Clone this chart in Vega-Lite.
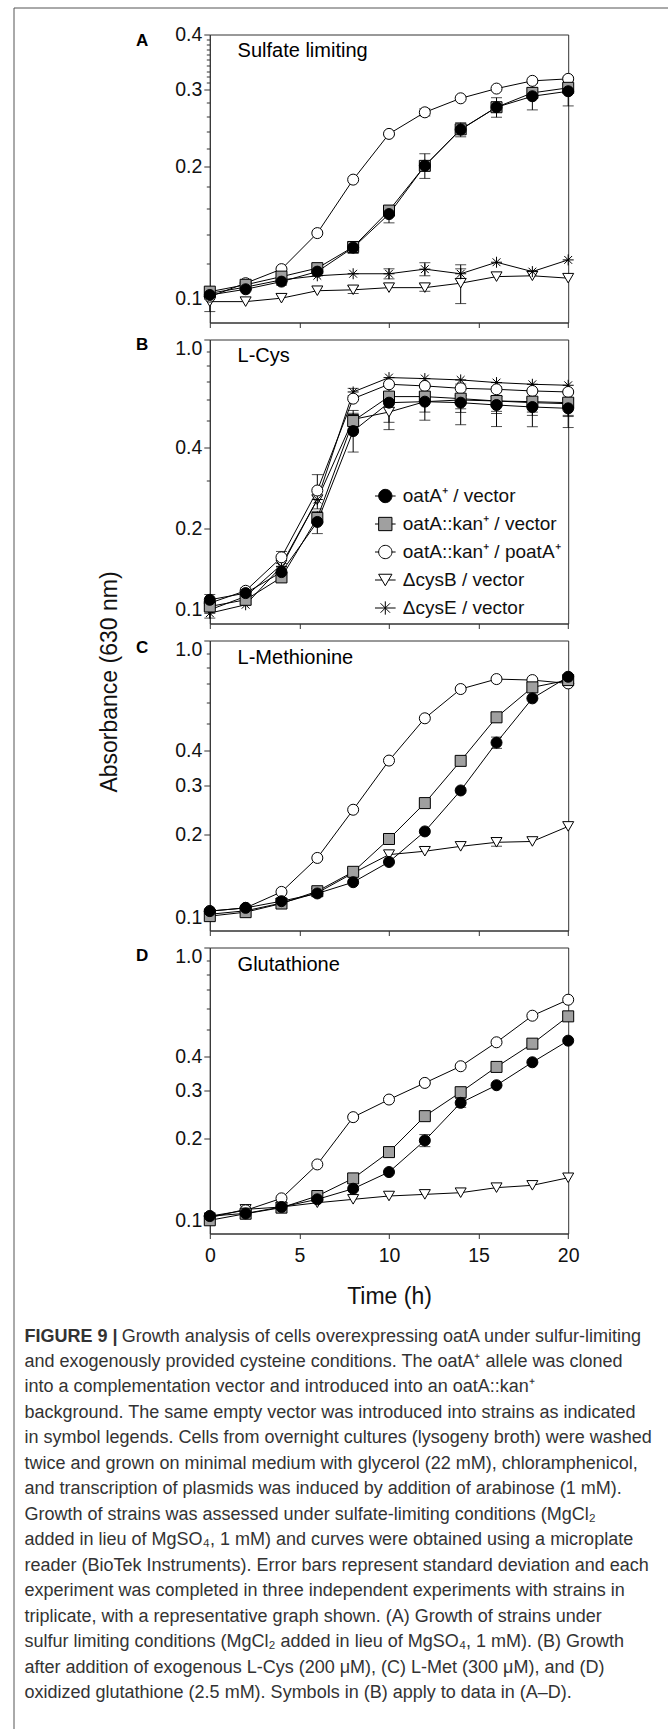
{
  "$schema": "https://vega.github.io/schema/vega-lite/v6.json",
  "background": "white",
  "padding": {"left": 10.5, "top": 7.5, "right": 0, "bottom": 0},
  "bounds": "flush",
  "spacing": 0,
  "resolve": {"scale": {"x": "independent", "y": "independent", "shape": "independent", "fill": "independent", "stroke": "independent"}},
  "datasets": {
    "growth": [
      {"panel":"A","series":"ΔcysB / vector","t":0,"v":0.0982,"sd":0.005},
      {"panel":"A","series":"ΔcysB / vector","t":2,"v":0.0982},
      {"panel":"A","series":"ΔcysB / vector","t":4,"v":0.1},
      {"panel":"A","series":"ΔcysB / vector","t":6,"v":0.104},
      {"panel":"A","series":"ΔcysB / vector","t":8,"v":0.1045,"sd":0.002},
      {"panel":"A","series":"ΔcysB / vector","t":10,"v":0.1057},
      {"panel":"A","series":"ΔcysB / vector","t":12,"v":0.1057,"sd":0.002},
      {"panel":"A","series":"ΔcysB / vector","t":14,"v":0.1082,"sd":0.011},
      {"panel":"A","series":"ΔcysB / vector","t":16,"v":0.112},
      {"panel":"A","series":"ΔcysB / vector","t":18,"v":0.1125},
      {"panel":"A","series":"ΔcysB / vector","t":20,"v":0.1111},
      {"panel":"A","series":"ΔcysE / vector","t":0,"v":0.1026},
      {"panel":"A","series":"ΔcysE / vector","t":2,"v":0.106},
      {"panel":"A","series":"ΔcysE / vector","t":4,"v":0.1101},
      {"panel":"A","series":"ΔcysE / vector","t":6,"v":0.1125},
      {"panel":"A","series":"ΔcysE / vector","t":8,"v":0.1137},
      {"panel":"A","series":"ΔcysE / vector","t":10,"v":0.1137,"sd":0.003},
      {"panel":"A","series":"ΔcysE / vector","t":12,"v":0.1165,"sd":0.004},
      {"panel":"A","series":"ΔcysE / vector","t":14,"v":0.1137,"sd":0.003},
      {"panel":"A","series":"ΔcysE / vector","t":16,"v":0.1208},
      {"panel":"A","series":"ΔcysE / vector","t":18,"v":0.115},
      {"panel":"A","series":"ΔcysE / vector","t":20,"v":0.1223},
      {"panel":"A","series":"oatA::kan⁺ / poatA⁺","t":0,"v":0.1008},
      {"panel":"A","series":"oatA::kan⁺ / poatA⁺","t":2,"v":0.1082},
      {"panel":"A","series":"oatA::kan⁺ / poatA⁺","t":4,"v":0.1165},
      {"panel":"A","series":"oatA::kan⁺ / poatA⁺","t":6,"v":0.1408},
      {"panel":"A","series":"oatA::kan⁺ / poatA⁺","t":8,"v":0.1865},
      {"panel":"A","series":"oatA::kan⁺ / poatA⁺","t":10,"v":0.2372},
      {"panel":"A","series":"oatA::kan⁺ / poatA⁺","t":12,"v":0.2657,"sd":0.005},
      {"panel":"A","series":"oatA::kan⁺ / poatA⁺","t":14,"v":0.286},
      {"panel":"A","series":"oatA::kan⁺ / poatA⁺","t":16,"v":0.301},
      {"panel":"A","series":"oatA::kan⁺ / poatA⁺","t":18,"v":0.3135},
      {"panel":"A","series":"oatA::kan⁺ / poatA⁺","t":20,"v":0.3168,"sd":0.003},
      {"panel":"A","series":"oatA::kan⁺ / vector","t":0,"v":0.1035},
      {"panel":"A","series":"oatA::kan⁺ / vector","t":2,"v":0.1073},
      {"panel":"A","series":"oatA::kan⁺ / vector","t":4,"v":0.112},
      {"panel":"A","series":"oatA::kan⁺ / vector","t":6,"v":0.1171},
      {"panel":"A","series":"oatA::kan⁺ / vector","t":8,"v":0.1309},
      {"panel":"A","series":"oatA::kan⁺ / vector","t":10,"v":0.1585},
      {"panel":"A","series":"oatA::kan⁺ / vector","t":12,"v":0.2005},
      {"panel":"A","series":"oatA::kan⁺ / vector","t":14,"v":0.243},
      {"panel":"A","series":"oatA::kan⁺ / vector","t":16,"v":0.2729},
      {"panel":"A","series":"oatA::kan⁺ / vector","t":18,"v":0.2943,"sd":0.008},
      {"panel":"A","series":"oatA::kan⁺ / vector","t":20,"v":0.3022,"sd":0.006},
      {"panel":"A","series":"oatA⁺ / vector","t":0,"v":0.1017},
      {"panel":"A","series":"oatA⁺ / vector","t":2,"v":0.1048},
      {"panel":"A","series":"oatA⁺ / vector","t":4,"v":0.1091,"sd":0.002},
      {"panel":"A","series":"oatA⁺ / vector","t":6,"v":0.115},
      {"panel":"A","series":"oatA⁺ / vector","t":8,"v":0.1305,"sd":0.004},
      {"panel":"A","series":"oatA⁺ / vector","t":10,"v":0.1556,"sd":0.007},
      {"panel":"A","series":"oatA⁺ / vector","t":12,"v":0.2007,"sd":0.013},
      {"panel":"A","series":"oatA⁺ / vector","t":14,"v":0.2426,"sd":0.009},
      {"panel":"A","series":"oatA⁺ / vector","t":16,"v":0.2729,"sd":0.014},
      {"panel":"A","series":"oatA⁺ / vector","t":18,"v":0.2891,"sd":0.02},
      {"panel":"A","series":"oatA⁺ / vector","t":20,"v":0.2968,"sd":0.022},

      {"panel":"B","series":"ΔcysB / vector","t":0,"v":0.1},
      {"panel":"B","series":"ΔcysB / vector","t":2,"v":0.1121},
      {"panel":"B","series":"ΔcysB / vector","t":4,"v":0.1469},
      {"panel":"B","series":"ΔcysB / vector","t":6,"v":0.2558},
      {"panel":"B","series":"ΔcysB / vector","t":8,"v":0.5064,"sd":0.04},
      {"panel":"B","series":"ΔcysB / vector","t":10,"v":0.5391,"sd":0.075},
      {"panel":"B","series":"ΔcysB / vector","t":12,"v":0.5889,"sd":0.05},
      {"panel":"B","series":"ΔcysB / vector","t":14,"v":0.5973,"sd":0.06},
      {"panel":"B","series":"ΔcysB / vector","t":16,"v":0.5923,"sd":0.06},
      {"panel":"B","series":"ΔcysB / vector","t":18,"v":0.5839,"sd":0.06},
      {"panel":"B","series":"ΔcysB / vector","t":20,"v":0.5788,"sd":0.06},
      {"panel":"B","series":"ΔcysE / vector","t":0,"v":0.0972,"sd":0.004},
      {"panel":"B","series":"ΔcysE / vector","t":2,"v":0.1044},
      {"panel":"B","series":"ΔcysE / vector","t":4,"v":0.1448},
      {"panel":"B","series":"ΔcysE / vector","t":6,"v":0.2558},
      {"panel":"B","series":"ΔcysE / vector","t":8,"v":0.6396,"sd":0.02},
      {"panel":"B","series":"ΔcysE / vector","t":10,"v":0.7229},
      {"panel":"B","series":"ΔcysE / vector","t":12,"v":0.7168},
      {"panel":"B","series":"ΔcysE / vector","t":14,"v":0.7087},
      {"panel":"B","series":"ΔcysE / vector","t":16,"v":0.6928},
      {"panel":"B","series":"ΔcysE / vector","t":18,"v":0.6829},
      {"panel":"B","series":"ΔcysE / vector","t":20,"v":0.6771},
      {"panel":"B","series":"oatA::kan⁺ / poatA⁺","t":0,"v":0.1059},
      {"panel":"B","series":"oatA::kan⁺ / poatA⁺","t":2,"v":0.1176},
      {"panel":"B","series":"oatA::kan⁺ / poatA⁺","t":4,"v":0.1564,"sd":0.008},
      {"panel":"B","series":"oatA::kan⁺ / poatA⁺","t":6,"v":0.2763,"sd":0.04},
      {"panel":"B","series":"oatA::kan⁺ / poatA⁺","t":8,"v":0.6042},
      {"panel":"B","series":"oatA::kan⁺ / poatA⁺","t":10,"v":0.6829},
      {"panel":"B","series":"oatA::kan⁺ / poatA⁺","t":12,"v":0.6733},
      {"panel":"B","series":"oatA::kan⁺ / poatA⁺","t":14,"v":0.6599},
      {"panel":"B","series":"oatA::kan⁺ / poatA⁺","t":16,"v":0.6543},
      {"panel":"B","series":"oatA::kan⁺ / poatA⁺","t":18,"v":0.6451},
      {"panel":"B","series":"oatA::kan⁺ / poatA⁺","t":20,"v":0.6396},
      {"panel":"B","series":"oatA::kan⁺ / vector","t":0,"v":0.1029},
      {"panel":"B","series":"oatA::kan⁺ / vector","t":2,"v":0.1089},
      {"panel":"B","series":"oatA::kan⁺ / vector","t":4,"v":0.1318},
      {"panel":"B","series":"oatA::kan⁺ / vector","t":6,"v":0.2187},
      {"panel":"B","series":"oatA::kan⁺ / vector","t":8,"v":0.4993,"sd":0.02},
      {"panel":"B","series":"oatA::kan⁺ / vector","t":10,"v":0.6148},
      {"panel":"B","series":"oatA::kan⁺ / vector","t":12,"v":0.6148},
      {"panel":"B","series":"oatA::kan⁺ / vector","t":14,"v":0.6042,"sd":0.05},
      {"panel":"B","series":"oatA::kan⁺ / vector","t":16,"v":0.5923,"sd":0.05},
      {"panel":"B","series":"oatA::kan⁺ / vector","t":18,"v":0.5889,"sd":0.05},
      {"panel":"B","series":"oatA::kan⁺ / vector","t":20,"v":0.5839,"sd":0.06},
      {"panel":"B","series":"oatA⁺ / vector","t":0,"v":0.1089,"sd":0.005},
      {"panel":"B","series":"oatA⁺ / vector","t":2,"v":0.1153,"sd":0.005},
      {"panel":"B","series":"oatA⁺ / vector","t":4,"v":0.1379,"sd":0.006},
      {"panel":"B","series":"oatA⁺ / vector","t":6,"v":0.2114,"sd":0.02},
      {"panel":"B","series":"oatA⁺ / vector","t":8,"v":0.4584,"sd":0.075},
      {"panel":"B","series":"oatA⁺ / vector","t":10,"v":0.5839,"sd":0.09},
      {"panel":"B","series":"oatA⁺ / vector","t":12,"v":0.5889,"sd":0.086},
      {"panel":"B","series":"oatA⁺ / vector","t":14,"v":0.5839,"sd":0.1},
      {"panel":"B","series":"oatA⁺ / vector","t":16,"v":0.5724,"sd":0.096},
      {"panel":"B","series":"oatA⁺ / vector","t":18,"v":0.5627,"sd":0.087},
      {"panel":"B","series":"oatA⁺ / vector","t":20,"v":0.5564,"sd":0.084},

      {"panel":"C","series":"ΔcysB / vector","t":0,"v":0.103},
      {"panel":"C","series":"ΔcysB / vector","t":2,"v":0.106},
      {"panel":"C","series":"ΔcysB / vector","t":4,"v":0.113},
      {"panel":"C","series":"ΔcysB / vector","t":6,"v":0.123},
      {"panel":"C","series":"ΔcysB / vector","t":8,"v":0.145},
      {"panel":"C","series":"ΔcysB / vector","t":10,"v":0.169},
      {"panel":"C","series":"ΔcysB / vector","t":12,"v":0.1738},
      {"panel":"C","series":"ΔcysB / vector","t":14,"v":0.181},
      {"panel":"C","series":"ΔcysB / vector","t":16,"v":0.1872,"sd":0.006},
      {"panel":"C","series":"ΔcysB / vector","t":18,"v":0.1885},
      {"panel":"C","series":"ΔcysB / vector","t":20,"v":0.2136},
      {"panel":"C","series":"oatA::kan⁺ / poatA⁺","t":0,"v":0.1057},
      {"panel":"C","series":"oatA::kan⁺ / poatA⁺","t":2,"v":0.1086},
      {"panel":"C","series":"oatA::kan⁺ / poatA⁺","t":4,"v":0.124},
      {"panel":"C","series":"oatA::kan⁺ / poatA⁺","t":6,"v":0.1644},
      {"panel":"C","series":"oatA::kan⁺ / poatA⁺","t":8,"v":0.2453},
      {"panel":"C","series":"oatA::kan⁺ / poatA⁺","t":10,"v":0.369},
      {"panel":"C","series":"oatA::kan⁺ / poatA⁺","t":12,"v":0.5242},
      {"panel":"C","series":"oatA::kan⁺ / poatA⁺","t":14,"v":0.6683},
      {"panel":"C","series":"oatA::kan⁺ / poatA⁺","t":16,"v":0.7259},
      {"panel":"C","series":"oatA::kan⁺ / poatA⁺","t":18,"v":0.7199},
      {"panel":"C","series":"oatA::kan⁺ / poatA⁺","t":20,"v":0.7002},
      {"panel":"C","series":"oatA::kan⁺ / vector","t":0,"v":0.1014},
      {"panel":"C","series":"oatA::kan⁺ / vector","t":2,"v":0.1048},
      {"panel":"C","series":"oatA::kan⁺ / vector","t":4,"v":0.1126},
      {"panel":"C","series":"oatA::kan⁺ / vector","t":6,"v":0.1247},
      {"panel":"C","series":"oatA::kan⁺ / vector","t":8,"v":0.1465},
      {"panel":"C","series":"oatA::kan⁺ / vector","t":10,"v":0.1924},
      {"panel":"C","series":"oatA::kan⁺ / vector","t":12,"v":0.2592},
      {"panel":"C","series":"oatA::kan⁺ / vector","t":14,"v":0.3681},
      {"panel":"C","series":"oatA::kan⁺ / vector","t":16,"v":0.5284,"sd":0.02},
      {"panel":"C","series":"oatA::kan⁺ / vector","t":18,"v":0.6776},
      {"panel":"C","series":"oatA::kan⁺ / vector","t":20,"v":0.7199},
      {"panel":"C","series":"oatA⁺ / vector","t":0,"v":0.1057},
      {"panel":"C","series":"oatA⁺ / vector","t":2,"v":0.1086},
      {"panel":"C","series":"oatA⁺ / vector","t":4,"v":0.1148},
      {"panel":"C","series":"oatA⁺ / vector","t":6,"v":0.1224},
      {"panel":"C","series":"oatA⁺ / vector","t":8,"v":0.1344},
      {"panel":"C","series":"oatA⁺ / vector","t":10,"v":0.159},
      {"panel":"C","series":"oatA⁺ / vector","t":12,"v":0.2049},
      {"panel":"C","series":"oatA⁺ / vector","t":14,"v":0.2879},
      {"panel":"C","series":"oatA⁺ / vector","t":16,"v":0.4284,"sd":0.02},
      {"panel":"C","series":"oatA⁺ / vector","t":18,"v":0.6185},
      {"panel":"C","series":"oatA⁺ / vector","t":20,"v":0.7401},

      {"panel":"D","series":"ΔcysB / vector","t":0,"v":0.1028},
      {"panel":"D","series":"ΔcysB / vector","t":2,"v":0.1103},
      {"panel":"D","series":"ΔcysB / vector","t":4,"v":0.1125},
      {"panel":"D","series":"ΔcysB / vector","t":6,"v":0.1166},
      {"panel":"D","series":"ΔcysB / vector","t":8,"v":0.12},
      {"panel":"D","series":"ΔcysB / vector","t":10,"v":0.1234},
      {"panel":"D","series":"ΔcysB / vector","t":12,"v":0.1251},
      {"panel":"D","series":"ΔcysB / vector","t":14,"v":0.1269},
      {"panel":"D","series":"ΔcysB / vector","t":16,"v":0.1324},
      {"panel":"D","series":"ΔcysB / vector","t":18,"v":0.135},
      {"panel":"D","series":"ΔcysB / vector","t":20,"v":0.1439},
      {"panel":"D","series":"oatA::kan⁺ / poatA⁺","t":0,"v":0.1042},
      {"panel":"D","series":"oatA::kan⁺ / poatA⁺","t":2,"v":0.1094},
      {"panel":"D","series":"oatA::kan⁺ / poatA⁺","t":4,"v":0.121},
      {"panel":"D","series":"oatA::kan⁺ / poatA⁺","t":6,"v":0.161},
      {"panel":"D","series":"oatA::kan⁺ / poatA⁺","t":8,"v":0.2397},
      {"panel":"D","series":"oatA::kan⁺ / poatA⁺","t":10,"v":0.278},
      {"panel":"D","series":"oatA::kan⁺ / poatA⁺","t":12,"v":0.3198},
      {"panel":"D","series":"oatA::kan⁺ / poatA⁺","t":14,"v":0.368},
      {"panel":"D","series":"oatA::kan⁺ / poatA⁺","t":16,"v":0.4502},
      {"panel":"D","series":"oatA::kan⁺ / poatA⁺","t":18,"v":0.5631},
      {"panel":"D","series":"oatA::kan⁺ / poatA⁺","t":20,"v":0.6442},
      {"panel":"D","series":"oatA::kan⁺ / vector","t":0,"v":0.1006},
      {"panel":"D","series":"oatA::kan⁺ / vector","t":2,"v":0.1063},
      {"panel":"D","series":"oatA::kan⁺ / vector","t":4,"v":0.1119},
      {"panel":"D","series":"oatA::kan⁺ / vector","t":6,"v":0.1234},
      {"panel":"D","series":"oatA::kan⁺ / vector","t":8,"v":0.1431},
      {"panel":"D","series":"oatA::kan⁺ / vector","t":10,"v":0.1786},
      {"panel":"D","series":"oatA::kan⁺ / vector","t":12,"v":0.2417},
      {"panel":"D","series":"oatA::kan⁺ / vector","t":14,"v":0.2957},
      {"panel":"D","series":"oatA::kan⁺ / vector","t":16,"v":0.3659},
      {"panel":"D","series":"oatA::kan⁺ / vector","t":18,"v":0.445},
      {"panel":"D","series":"oatA::kan⁺ / vector","t":20,"v":0.5601},
      {"panel":"D","series":"oatA⁺ / vector","t":0,"v":0.1042},
      {"panel":"D","series":"oatA⁺ / vector","t":2,"v":0.1066},
      {"panel":"D","series":"oatA⁺ / vector","t":4,"v":0.1125},
      {"panel":"D","series":"oatA⁺ / vector","t":6,"v":0.12},
      {"panel":"D","series":"oatA⁺ / vector","t":8,"v":0.1312},
      {"panel":"D","series":"oatA⁺ / vector","t":10,"v":0.151},
      {"panel":"D","series":"oatA⁺ / vector","t":12,"v":0.197,"sd":0.01},
      {"panel":"D","series":"oatA⁺ / vector","t":14,"v":0.2704,"sd":0.01},
      {"panel":"D","series":"oatA⁺ / vector","t":16,"v":0.3136},
      {"panel":"D","series":"oatA⁺ / vector","t":18,"v":0.3805},
      {"panel":"D","series":"oatA⁺ / vector","t":20,"v":0.4564}
    ],
    "caption": [
      {"line":0,"part":"head","text":"FIGURE 9 |"},
      {"line":0,"part":"body","text":"Growth analysis of cells overexpressing oatA under sulfur-limiting"},
      {"line":1,"part":"body","text":"and exogenously provided cysteine conditions. The oatA⁺ allele was cloned"},
      {"line":2,"part":"body","text":"into a complementation vector and introduced into an oatA::kan⁺"},
      {"line":3,"part":"body","text":"background. The same empty vector was introduced into strains as indicated"},
      {"line":4,"part":"body","text":"in symbol legends. Cells from overnight cultures (lysogeny broth) were washed"},
      {"line":5,"part":"body","text":"twice and grown on minimal medium with glycerol (22 mM), chloramphenicol,"},
      {"line":6,"part":"body","text":"and transcription of plasmids was induced by addition of arabinose (1 mM)."},
      {"line":7,"part":"body","text":"Growth of strains was assessed under sulfate-limiting conditions (MgCl₂"},
      {"line":8,"part":"body","text":"added in lieu of MgSO₄, 1 mM) and curves were obtained using a microplate"},
      {"line":9,"part":"body","text":"reader (BioTek Instruments). Error bars represent standard deviation and each"},
      {"line":10,"part":"body","text":"experiment was completed in three independent experiments with strains in"},
      {"line":11,"part":"body","text":"triplicate, with a representative graph shown. (A) Growth of strains under"},
      {"line":12,"part":"body","text":"sulfur limiting conditions (MgCl₂ added in lieu of MgSO₄, 1 mM). (B) Growth"},
      {"line":13,"part":"body","text":"after addition of exogenous L-Cys (200 μM), (C) L-Met (300 μM), and (D)"},
      {"line":14,"part":"body","text":"oxidized glutathione (2.5 mM). Symbols in (B) apply to data in (A–D)."}
    ],
    "frame": [{"z": 0}]
  },
  "vconcat": [
    {
      "width": 660, "height": 27,
      "view": {"stroke": null},
      "data": {"name": "frame"},
      "mark": {"type": "point", "opacity": 0},
      "encoding": {
        "x": {"field": "z", "type": "quantitative", "scale": {"domain": [0, 1]}, "axis": {"orient": "top", "ticks": false, "labels": false, "title": null, "domainColor": "#555555"}},
        "y": {"field": "z", "type": "quantitative", "scale": {"domain": [0, 1]}, "axis": {"ticks": false, "labels": false, "title": null, "domainColor": "#555555"}}
      }
    },
    {
      "bounds": "flush",
      "spacing": 195.3,
      "resolve": {"scale": {"x": "independent", "y": "independent", "shape": "independent", "fill": "independent", "stroke": "independent"}},
      "hconcat": [
        {
          "width": 1, "height": 1700,
          "view": {"stroke": null},
          "data": {"name": "frame"},
          "mark": {"type": "point", "opacity": 0},
          "encoding": {
            "y": {"field": "z", "type": "quantitative", "scale": {"domain": [0, 1]}, "axis": {"ticks": false, "labels": false, "title": null, "domainColor": "#555555"}}
          }
        },
        {
          "bounds": "flush",
          "spacing": 17,
          "resolve": {"scale": {"x": "independent", "y": "independent", "shape": "independent", "fill": "independent", "stroke": "independent"}},
          "vconcat": [
            {
              "width": 358.4, "height": 288,
              "layer": [
                {"data": {"name": "growth"}, "transform": [{"filter": "datum.panel == 'A' && datum.sd > 0"}],
                 "mark": {"type": "errorbar", "ticks": true, "size": 11, "thickness": 1, "color": "black"},
                 "encoding": {"x": {"field": "t", "type": "quantitative", "scale": {"domain": [0, 20], "nice": false, "zero": false}},
                              "y": {"field": "v", "type": "quantitative", "scale": {"type": "log", "domain": [0.088, 0.4], "nice": false}},
                              "yError": {"field": "sd"}}},
                {"data": {"name": "growth"}, "transform": [{"filter": "datum.panel == 'A'"}],
                 "mark": {"type": "line", "color": "black", "strokeWidth": 1},
                 "encoding": {"x": {"field": "t", "type": "quantitative", "scale": {"domain": [0, 20], "nice": false, "zero": false},
                                    "axis": {"values": [0, 5, 10, 15, 20], "labels": false, "title": null, "tickSize": 5}},
                              "y": {"field": "v", "type": "quantitative", "scale": {"type": "log", "domain": [0.088, 0.4], "nice": false},
                                    "axis": {"title": null, "labelFlush": false,
                                             "tickSize": {"condition": {"test": "datum.value == 0.1 || datum.value == 0.2 || datum.value == 0.3 || datum.value == 0.4", "value": 6}, "value": 3.5},
                                             "values": [0.1, 0.12, 0.14, 0.16, 0.18, 0.2, 0.22, 0.24, 0.26, 0.28, 0.3, 0.31, 0.32, 0.33, 0.34, 0.35, 0.36, 0.37, 0.38, 0.39, 0.4],
                                             "labelExpr": "(datum.value == 0.1 || datum.value == 0.2 || datum.value == 0.3 || datum.value == 0.4) ? format(datum.value, '.1f') : ''"}},
                              "detail": {"field": "series", "type": "nominal"}}},
                {"data": {"name": "growth"}, "transform": [{"filter": "datum.panel == 'A'"}],
                 "mark": {"type": "point", "filled": true, "opacity": 1, "strokeWidth": 1, "size": 121},
                 "encoding": {
                   "x": {"field": "t", "type": "quantitative", "scale": {"domain": [0, 20], "nice": false, "zero": false}},
                   "y": {"field": "v", "type": "quantitative", "scale": {"type": "log", "domain": [0.088, 0.4], "nice": false}},
                   "shape": {"field": "series", "type": "nominal", "legend": null,
                             "scale": {"domain": ["oatA⁺ / vector", "oatA::kan⁺ / vector", "oatA::kan⁺ / poatA⁺", "ΔcysB / vector", "ΔcysE / vector"],
                                       "range": ["circle", "square", "circle", "triangle-down", "M0,-1V1M-1,0H1M-0.71,-0.71L0.71,0.71M-0.71,0.71L0.71,-0.71"]}},
                   "fill": {"field": "series", "type": "nominal", "legend": null,
                            "scale": {"domain": ["oatA⁺ / vector", "oatA::kan⁺ / vector", "oatA::kan⁺ / poatA⁺", "ΔcysB / vector", "ΔcysE / vector"],
                                      "range": ["#000000", "#a0a0a0", "#ffffff", "#ffffff", "transparent"]}},
                   "stroke": {"field": "series", "type": "nominal", "legend": null,
                              "scale": {"domain": ["oatA⁺ / vector", "oatA::kan⁺ / vector", "oatA::kan⁺ / poatA⁺", "ΔcysB / vector", "ΔcysE / vector"],
                                        "range": ["#000000", "#000000", "#000000", "#000000", "#000000"]}}}},
                {"data": {"values": [{"label": "A"}]},
                 "mark": {"type": "text", "fontSize": 17, "fontWeight": "bold", "align": "center", "baseline": "middle", "color": "black", "font": "Liberation Sans"},
                 "encoding": {"x": {"datum": -3.78, "type": "quantitative", "scale": {"domain": [0, 20], "nice": false, "zero": false}},
                              "y": {"datum": 0.3875, "type": "quantitative", "scale": {"type": "log", "domain": [0.088, 0.4], "nice": false}},
                              "text": {"field": "label"}}},
                {"data": {"values": [{"label": "Sulfate limiting"}]},
                 "mark": {"type": "text", "fontSize": 20, "align": "left", "baseline": "middle", "color": "black", "font": "Liberation Sans"},
                 "encoding": {"x": {"datum": 1.55, "type": "quantitative", "scale": {"domain": [0, 20], "nice": false, "zero": false}},
                              "y": {"datum": 0.3664, "type": "quantitative", "scale": {"type": "log", "domain": [0.088, 0.4], "nice": false}},
                              "text": {"field": "label"}}}
              ]
            },
            {
              "width": 358.4, "height": 284,
              "resolve": {"scale": {"shape": "independent", "fill": "independent", "stroke": "independent"}},
              "layer": [
                {"data": {"name": "growth"}, "transform": [{"filter": "datum.panel == 'B' && datum.sd > 0"}],
                 "mark": {"type": "errorbar", "ticks": true, "size": 11, "thickness": 1, "color": "black"},
                 "encoding": {"x": {"field": "t", "type": "quantitative", "scale": {"domain": [0, 20], "nice": false, "zero": false}},
                              "y": {"field": "v", "type": "quantitative", "title": "Absorbance (630 nm)", "scale": {"type": "log", "domain": [0.089, 1], "nice": false}},
                              "yError": {"field": "sd"}}},
                {"data": {"name": "growth"}, "transform": [{"filter": "datum.panel == 'B'"}],
                 "mark": {"type": "line", "color": "black", "strokeWidth": 1},
                 "encoding": {"x": {"field": "t", "type": "quantitative", "scale": {"domain": [0, 20], "nice": false, "zero": false},
                                    "axis": {"values": [0, 5, 10, 15, 20], "labels": false, "title": null, "tickSize": 5}},
                              "y": {"field": "v", "type": "quantitative", "title": "Absorbance (630 nm)", "scale": {"type": "log", "domain": [0.089, 1], "nice": false},
                                    "axis": {"title": "Absorbance (630 nm)", "titleX": -100, "titleY": 342, "titleAlign": "center", "titleBaseline": "middle", "titleAngle": 270,
                                             "labelFlush": true,
                                             "tickSize": {"condition": {"test": "datum.value == 0.1 || datum.value == 0.2 || datum.value == 0.4 || datum.value == 1", "value": 6}, "value": 3.5},
                                             "values": [0.1, 0.2, 0.3, 0.4, 0.5, 0.6, 0.7, 0.8, 0.9, 1],
                                             "labelExpr": "(datum.value == 0.1 || datum.value == 0.2 || datum.value == 0.4 || datum.value == 1) ? format(datum.value, '.1f') : ''"}},
                              "detail": {"field": "series", "type": "nominal"}}},
                {"data": {"name": "growth"}, "transform": [{"filter": "datum.panel == 'B'"}],
                 "mark": {"type": "point", "filled": true, "opacity": 1, "strokeWidth": 1, "size": 121},
                 "encoding": {
                   "x": {"field": "t", "type": "quantitative", "scale": {"domain": [0, 20], "nice": false, "zero": false}},
                   "y": {"field": "v", "type": "quantitative", "title": "Absorbance (630 nm)", "scale": {"type": "log", "domain": [0.089, 1], "nice": false}},
                   "shape": {"field": "series", "type": "nominal", "legend": null,
                             "scale": {"domain": ["oatA⁺ / vector", "oatA::kan⁺ / vector", "oatA::kan⁺ / poatA⁺", "ΔcysB / vector", "ΔcysE / vector"],
                                       "range": ["circle", "square", "circle", "triangle-down", "M0,-1V1M-1,0H1M-0.71,-0.71L0.71,0.71M-0.71,0.71L0.71,-0.71"]}},
                   "fill": {"field": "series", "type": "nominal", "legend": null,
                            "scale": {"domain": ["oatA⁺ / vector", "oatA::kan⁺ / vector", "oatA::kan⁺ / poatA⁺", "ΔcysB / vector", "ΔcysE / vector"],
                                      "range": ["#000000", "#a0a0a0", "#ffffff", "#ffffff", "transparent"]}},
                   "stroke": {"field": "series", "type": "nominal", "legend": null,
                              "scale": {"domain": ["oatA⁺ / vector", "oatA::kan⁺ / vector", "oatA::kan⁺ / poatA⁺", "ΔcysB / vector", "ΔcysE / vector"],
                                        "range": ["#000000", "#000000", "#000000", "#000000", "#000000"]}}}},
                {"data": {"name": "growth"}, "transform": [{"filter": "datum.panel == 'B'"}],
                 "mark": {"type": "point", "filled": true, "opacity": 0, "strokeWidth": 1, "size": 121},
                 "encoding": {
                   "x": {"field": "t", "type": "quantitative", "scale": {"domain": [0, 20], "nice": false, "zero": false}},
                   "y": {"field": "v", "type": "quantitative", "title": "Absorbance (630 nm)", "scale": {"type": "log", "domain": [0.089, 1], "nice": false}},
                   "shape": {"field": "series", "type": "nominal",
                             "scale": {"domain": ["oatA⁺ / vector", "oatA::kan⁺ / vector", "oatA::kan⁺ / poatA⁺", "ΔcysB / vector", "ΔcysE / vector"],
                                       "range": ["M-1.55,0H-1M1,0H1.55M-1,0A1,1,0,1,1,1,0A1,1,0,1,1,-1,0Z", "M-1.55,0H-1M1,0H1.55M-1,-1H1V1H-1Z", "M-1.55,0H-1M1,0H1.55M-1,0A1,1,0,1,1,1,0A1,1,0,1,1,-1,0Z", "M-1.55,0H-0.5M0.5,0H1.55M0,0.866L-1,-0.866L1,-0.866Z", "M-1.55,0H1.55M0,-1V1M-0.71,-0.71L0.71,0.71M-0.71,0.71L0.71,-0.71"]},
                             "legend": {"orient": "none", "legendX": 166, "legendY": 147, "title": null, "padding": 0,
                                        "labelFont": "Liberation Sans", "labelFontSize": 19, "labelColor": "#111", "labelLimit": 400, "labelOffset": 8,
                                        "symbolSize": 177, "rowPadding": 8, "symbolStrokeWidth": 1, "symbolOpacity": 1}},
                   "fill": {"field": "series", "type": "nominal",
                            "scale": {"domain": ["oatA⁺ / vector", "oatA::kan⁺ / vector", "oatA::kan⁺ / poatA⁺", "ΔcysB / vector", "ΔcysE / vector"],
                                      "range": ["#000000", "#a0a0a0", "#ffffff", "#ffffff", "transparent"]},
                            "legend": {"orient": "none", "legendX": 166, "legendY": 147, "title": null, "padding": 0,
                                       "labelFont": "Liberation Sans", "labelFontSize": 19, "labelColor": "#111", "labelLimit": 400, "labelOffset": 8,
                                       "symbolSize": 177, "rowPadding": 8, "symbolStrokeWidth": 1, "symbolOpacity": 1}},
                   "stroke": {"field": "series", "type": "nominal",
                              "scale": {"domain": ["oatA⁺ / vector", "oatA::kan⁺ / vector", "oatA::kan⁺ / poatA⁺", "ΔcysB / vector", "ΔcysE / vector"],
                                        "range": ["#000000", "#000000", "#000000", "#000000", "#000000"]},
                              "legend": {"orient": "none", "legendX": 166, "legendY": 147, "title": null, "padding": 0,
                                         "labelFont": "Liberation Sans", "labelFontSize": 19, "labelColor": "#111", "labelLimit": 400, "labelOffset": 8,
                                         "symbolSize": 177, "rowPadding": 8, "symbolStrokeWidth": 1, "symbolOpacity": 1}}}},
                {"data": {"values": [{"label": "B"}]},
                 "mark": {"type": "text", "fontSize": 17, "fontWeight": "bold", "align": "center", "baseline": "middle", "color": "black", "font": "Liberation Sans"},
                 "encoding": {"x": {"datum": -3.78, "type": "quantitative", "scale": {"domain": [0, 20], "nice": false, "zero": false}},
                              "y": {"datum": 0.953, "type": "quantitative", "scale": {"type": "log", "domain": [0.089, 1], "nice": false}},
                              "text": {"field": "label"}}},
                {"data": {"values": [{"label": "L-Cys"}]},
                 "mark": {"type": "text", "fontSize": 20, "align": "left", "baseline": "middle", "color": "black", "font": "Liberation Sans"},
                 "encoding": {"x": {"datum": 1.55, "type": "quantitative", "scale": {"domain": [0, 20], "nice": false, "zero": false}},
                              "y": {"datum": 0.866, "type": "quantitative", "scale": {"type": "log", "domain": [0.089, 1], "nice": false}},
                              "text": {"field": "label"}}}
              ]
            },
            {
              "width": 358.4, "height": 290,
              "layer": [
                {"data": {"name": "growth"}, "transform": [{"filter": "datum.panel == 'C' && datum.sd > 0"}],
                 "mark": {"type": "errorbar", "ticks": true, "size": 11, "thickness": 1, "color": "black"},
                 "encoding": {"x": {"field": "t", "type": "quantitative", "scale": {"domain": [0, 20], "nice": false, "zero": false}},
                              "y": {"field": "v", "type": "quantitative", "scale": {"type": "log", "domain": [0.09, 1], "nice": false}},
                              "yError": {"field": "sd"}}},
                {"data": {"name": "growth"}, "transform": [{"filter": "datum.panel == 'C'"}],
                 "mark": {"type": "line", "color": "black", "strokeWidth": 1},
                 "encoding": {"x": {"field": "t", "type": "quantitative", "scale": {"domain": [0, 20], "nice": false, "zero": false},
                                    "axis": {"values": [0, 5, 10, 15, 20], "labels": false, "title": null, "tickSize": 5}},
                              "y": {"field": "v", "type": "quantitative", "scale": {"type": "log", "domain": [0.09, 1], "nice": false},
                                    "axis": {"title": null, "labelFlush": true,
                                             "tickSize": {"condition": {"test": "datum.value == 0.1 || datum.value == 0.2 || datum.value == 0.3 || datum.value == 0.4 || datum.value == 1", "value": 6}, "value": 3.5},
                                             "values": [0.1, 0.2, 0.3, 0.4, 0.5, 0.6, 0.7, 0.8, 0.9, 1],
                                             "labelExpr": "(datum.value == 0.1 || datum.value == 0.2 || datum.value == 0.3 || datum.value == 0.4 || datum.value == 1) ? format(datum.value, '.1f') : ''"}},
                              "detail": {"field": "series", "type": "nominal"}}},
                {"data": {"name": "growth"}, "transform": [{"filter": "datum.panel == 'C'"}],
                 "mark": {"type": "point", "filled": true, "opacity": 1, "strokeWidth": 1, "size": 121},
                 "encoding": {
                   "x": {"field": "t", "type": "quantitative", "scale": {"domain": [0, 20], "nice": false, "zero": false}},
                   "y": {"field": "v", "type": "quantitative", "scale": {"type": "log", "domain": [0.09, 1], "nice": false}},
                   "shape": {"field": "series", "type": "nominal", "legend": null,
                             "scale": {"domain": ["oatA⁺ / vector", "oatA::kan⁺ / vector", "oatA::kan⁺ / poatA⁺", "ΔcysB / vector", "ΔcysE / vector"],
                                       "range": ["circle", "square", "circle", "triangle-down", "M0,-1V1M-1,0H1M-0.71,-0.71L0.71,0.71M-0.71,0.71L0.71,-0.71"]}},
                   "fill": {"field": "series", "type": "nominal", "legend": null,
                            "scale": {"domain": ["oatA⁺ / vector", "oatA::kan⁺ / vector", "oatA::kan⁺ / poatA⁺", "ΔcysB / vector", "ΔcysE / vector"],
                                      "range": ["#000000", "#a0a0a0", "#ffffff", "#ffffff", "transparent"]}},
                   "stroke": {"field": "series", "type": "nominal", "legend": null,
                              "scale": {"domain": ["oatA⁺ / vector", "oatA::kan⁺ / vector", "oatA::kan⁺ / poatA⁺", "ΔcysB / vector", "ΔcysE / vector"],
                                        "range": ["#000000", "#000000", "#000000", "#000000", "#000000"]}}}},
                {"data": {"values": [{"label": "C"}]},
                 "mark": {"type": "text", "fontSize": 17, "fontWeight": "bold", "align": "center", "baseline": "middle", "color": "black", "font": "Liberation Sans"},
                 "encoding": {"x": {"datum": -3.78, "type": "quantitative", "scale": {"domain": [0, 20], "nice": false, "zero": false}},
                              "y": {"datum": 0.938, "type": "quantitative", "scale": {"type": "log", "domain": [0.09, 1], "nice": false}},
                              "text": {"field": "label"}}},
                {"data": {"values": [{"label": "L-Methionine"}]},
                 "mark": {"type": "text", "fontSize": 20, "align": "left", "baseline": "middle", "color": "black", "font": "Liberation Sans"},
                 "encoding": {"x": {"datum": 1.55, "type": "quantitative", "scale": {"domain": [0, 20], "nice": false, "zero": false}},
                              "y": {"datum": 0.866, "type": "quantitative", "scale": {"type": "log", "domain": [0.09, 1], "nice": false}},
                              "text": {"field": "label"}}}
              ]
            },
            {
              "width": 358.4, "height": 286,
              "layer": [
                {"data": {"name": "growth"}, "transform": [{"filter": "datum.panel == 'D' && datum.sd > 0"}],
                 "mark": {"type": "errorbar", "ticks": true, "size": 11, "thickness": 1, "color": "black"},
                 "encoding": {"x": {"field": "t", "type": "quantitative", "scale": {"domain": [0, 20], "nice": false, "zero": false}},
                              "y": {"field": "v", "type": "quantitative", "scale": {"type": "log", "domain": [0.09, 1], "nice": false}},
                              "yError": {"field": "sd"}}},
                {"data": {"name": "growth"}, "transform": [{"filter": "datum.panel == 'D'"}],
                 "mark": {"type": "line", "color": "black", "strokeWidth": 1},
                 "encoding": {"x": {"field": "t", "type": "quantitative", "scale": {"domain": [0, 20], "nice": false, "zero": false},
                                    "axis": {"values": [0, 5, 10, 15, 20], "title": "Time (h)", "tickSize": 5, "labelPadding": 8, "titlePadding": 20, "format": "d", "labelFlush": false}},
                              "y": {"field": "v", "type": "quantitative", "scale": {"type": "log", "domain": [0.09, 1], "nice": false},
                                    "axis": {"title": null, "labelFlush": true,
                                             "tickSize": {"condition": {"test": "datum.value == 0.1 || datum.value == 0.2 || datum.value == 0.3 || datum.value == 0.4 || datum.value == 1", "value": 6}, "value": 3.5},
                                             "values": [0.1, 0.2, 0.3, 0.4, 0.5, 0.6, 0.7, 0.8, 0.9, 1],
                                             "labelExpr": "(datum.value == 0.1 || datum.value == 0.2 || datum.value == 0.3 || datum.value == 0.4 || datum.value == 1) ? format(datum.value, '.1f') : ''"}},
                              "detail": {"field": "series", "type": "nominal"}}},
                {"data": {"name": "growth"}, "transform": [{"filter": "datum.panel == 'D'"}],
                 "mark": {"type": "point", "filled": true, "opacity": 1, "strokeWidth": 1, "size": 121},
                 "encoding": {
                   "x": {"field": "t", "type": "quantitative", "scale": {"domain": [0, 20], "nice": false, "zero": false}},
                   "y": {"field": "v", "type": "quantitative", "scale": {"type": "log", "domain": [0.09, 1], "nice": false}},
                   "shape": {"field": "series", "type": "nominal", "legend": null,
                             "scale": {"domain": ["oatA⁺ / vector", "oatA::kan⁺ / vector", "oatA::kan⁺ / poatA⁺", "ΔcysB / vector", "ΔcysE / vector"],
                                       "range": ["circle", "square", "circle", "triangle-down", "M0,-1V1M-1,0H1M-0.71,-0.71L0.71,0.71M-0.71,0.71L0.71,-0.71"]}},
                   "fill": {"field": "series", "type": "nominal", "legend": null,
                            "scale": {"domain": ["oatA⁺ / vector", "oatA::kan⁺ / vector", "oatA::kan⁺ / poatA⁺", "ΔcysB / vector", "ΔcysE / vector"],
                                      "range": ["#000000", "#a0a0a0", "#ffffff", "#ffffff", "transparent"]}},
                   "stroke": {"field": "series", "type": "nominal", "legend": null,
                              "scale": {"domain": ["oatA⁺ / vector", "oatA::kan⁺ / vector", "oatA::kan⁺ / poatA⁺", "ΔcysB / vector", "ΔcysE / vector"],
                                        "range": ["#000000", "#000000", "#000000", "#000000", "#000000"]}}}},
                {"data": {"values": [{"label": "D"}]},
                 "mark": {"type": "text", "fontSize": 17, "fontWeight": "bold", "align": "center", "baseline": "middle", "color": "black", "font": "Liberation Sans"},
                 "encoding": {"x": {"datum": -3.78, "type": "quantitative", "scale": {"domain": [0, 20], "nice": false, "zero": false}},
                              "y": {"datum": 0.929, "type": "quantitative", "scale": {"type": "log", "domain": [0.09, 1], "nice": false}},
                              "text": {"field": "label"}}},
                {"data": {"values": [{"label": "Glutathione"}]},
                 "mark": {"type": "text", "fontSize": 20, "align": "left", "baseline": "middle", "color": "black", "font": "Liberation Sans"},
                 "encoding": {"x": {"datum": 1.55, "type": "quantitative", "scale": {"domain": [0, 20], "nice": false, "zero": false}},
                              "y": {"datum": 0.866, "type": "quantitative", "scale": {"type": "log", "domain": [0.09, 1], "nice": false}},
                              "text": {"field": "label"}}}
              ]
            },
            {
              "width": 420, "height": 470,
              "view": {"stroke": null},
              "data": {"name": "caption"},
              "layer": [
                {"transform": [{"filter": "datum.part == 'head'"}],
                 "mark": {"type": "text", "align": "left", "baseline": "middle", "dx": -185.3, "fontSize": 18, "fontWeight": "bold", "font": "Liberation Sans", "color": "#333333"},
                 "encoding": {"x": {"value": 0},
                              "y": {"field": "line", "type": "quantitative", "scale": {"domain": [-3.373, 15.06], "reverse": true, "nice": false, "zero": false}, "axis": null},
                              "text": {"field": "text"}}},
                {"transform": [{"filter": "datum.part == 'body' && datum.line == 0"}],
                 "mark": {"type": "text", "align": "left", "baseline": "middle", "dx": -88, "fontSize": 18, "font": "Liberation Sans", "color": "#333333"},
                 "encoding": {"x": {"value": 0},
                              "y": {"field": "line", "type": "quantitative", "scale": {"domain": [-3.373, 15.06], "reverse": true, "nice": false, "zero": false}, "axis": null},
                              "text": {"field": "text"}}},
                {"transform": [{"filter": "datum.part == 'body' && datum.line > 0"}],
                 "mark": {"type": "text", "align": "left", "baseline": "middle", "dx": -185.3, "fontSize": 18, "font": "Liberation Sans", "color": "#333333"},
                 "encoding": {"x": {"value": 0},
                              "y": {"field": "line", "type": "quantitative", "scale": {"domain": [-3.373, 15.06], "reverse": true, "nice": false, "zero": false}, "axis": null},
                              "text": {"field": "text"}}}
              ]
            }
          ]
        }
      ]
    }
  ],
  "config": {
    "font": "Liberation Sans",
    "view": {"stroke": "#333333", "strokeWidth": 1},
    "axis": {"grid": false, "domainColor": "#333333", "tickColor": "#333333", "domainWidth": 1, "tickWidth": 1,
             "labelColor": "#111111", "labelFont": "Liberation Sans", "labelFontSize": 19.5, "labelOverlap": false, "labelPadding": 2,
             "titleFont": "Liberation Sans", "titleFontWeight": "normal", "titleColor": "#111111", "titleFontSize": 23},
    "axisY": {"labelPadding": 2}
  }
}
